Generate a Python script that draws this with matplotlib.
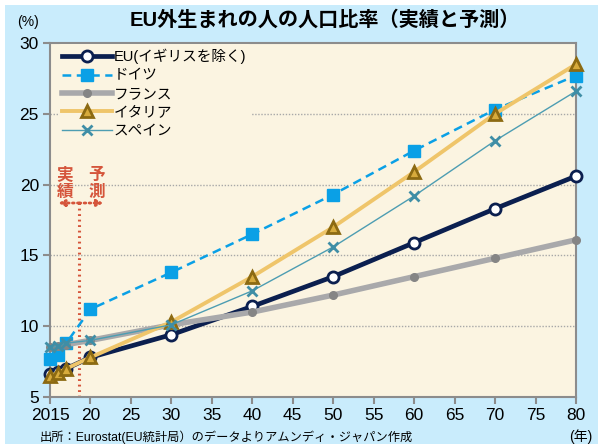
import matplotlib
matplotlib.use("Agg")
import matplotlib.pyplot as plt
from matplotlib.patches import Rectangle

plt.rcParams['font.family'] = ['Liberation Sans', 'Noto Sans CJK JP', 'DejaVu Sans']

years = [2015, 2016, 2017, 2020, 2030, 2040, 2050, 2060, 2070, 2080]
eu = [6.6, 6.8, 7.0, 7.8, 9.4, 11.4, 13.5, 15.9, 18.3, 20.6]
germany = [7.7, 8.0, 8.8, 11.2, 13.8, 16.5, 19.3, 22.4, 25.3, 27.7]
france = [8.5, 8.6, 8.7, 9.0, 10.1, 11.0, 12.2, 13.5, 14.8, 16.1]
italy = [6.5, 6.7, 7.0, 7.8, 10.3, 13.5, 17.0, 20.9, 25.0, 28.5]
spain = [8.5, 8.6, 8.8, 9.0, 10.1, 12.5, 15.6, 19.2, 23.1, 26.6]
labels = ['EU(イギリスを除く)', 'ドイツ', 'フランス', 'イタリア', 'スペイン']
xticks = [2015, 2020, 2025, 2030, 2035, 2040, 2045, 2050, 2055, 2060, 2065, 2070, 2075, 2080]
xticklabels = ['2015', '20', '25', '30', '35', '40', '45', '50', '55', '60', '65', '70', '75', '80']
yticks = [5, 10, 15, 20, 25, 30]
actual_end = 2018.6

fig = plt.figure(figsize=(5.98, 4.44), dpi=100, facecolor='white')
fig.patches.append(Rectangle((5/598, 0), 1, (444-5)/444, transform=fig.transFigure,
                             facecolor='#c9ecfc', edgecolor='none', zorder=-10))
ax = fig.add_axes([50/598, 47/444, 526/598, 354/444])
ax.set_facecolor('#fbf4e1')

ax.plot(years, eu, color='#0b1f4f', lw=3.4, marker='o', ms=8, mfc='white', mec='#0b1f4f',
        mew=2.0, label=labels[0], clip_on=False, zorder=3)
ax.plot(years, germany, color='#0aa0e6', lw=1.8, ls=(0, (3.5, 2.2)), marker='s', ms=8,
        mfc='#0aa0e6', mec='#0aa0e6', label=labels[1], clip_on=False, zorder=4)
ax.plot(years, france, color='#a9a9ab', lw=4, marker='o', ms=5.5, mfc='#858585', mec='#858585',
        label=labels[2], clip_on=False, zorder=5)
ax.plot(years, italy, color='#efc56a', lw=2.8, marker='^', ms=9, mfc='#d7ab3c', mec='#8c6a12',
        mew=2.0, label=labels[3], clip_on=False, zorder=6)
ax.plot(years, spain, color='#4d9db2', lw=1.0, marker='x', ms=6.5, mec='#3f8ea6', mew=2.0,
        label=labels[4], clip_on=False, zorder=7)

ax.set_xlim(2015, 2080)
ax.set_ylim(5, 30)
ax.set_xticks(xticks)
ax.set_xticklabels(xticklabels)
ax.set_yticks(yticks)
for y in [10, 15, 20, 25]:
    ax.axhline(y, color='#a8a8a8', lw=1, ls=(0, (1, 1.2)), zorder=1)
for s in ax.spines.values():
    s.set_color('#8c8c8c')
    s.set_linewidth(1.5)
ax.tick_params(axis='both', colors='#8c8c8c', width=1.5, length=5, labelsize=12.5,
               labelcolor='black')
ax.tick_params(axis='x', pad=3)
ax.tick_params(axis='y', pad=3)

red = '#d5553b'
arrow_y = 18.7
ax.plot([actual_end, actual_end], [5, arrow_y], color=red, lw=2.2, ls=(0, (0.6, 1.2)), zorder=2)
ax.annotate('', xy=(2016.0, arrow_y), xytext=(actual_end, arrow_y),
            arrowprops=dict(arrowstyle='-|>', color=red, lw=2, ls=(0, (0.6, 1.2)),
                            mutation_scale=9, shrinkA=0, shrinkB=0), zorder=2)
ax.annotate('', xy=(2021.6, arrow_y), xytext=(actual_end, arrow_y),
            arrowprops=dict(arrowstyle='-|>', color=red, lw=2, ls=(0, (0.6, 1.2)),
                            mutation_scale=9, shrinkA=0, shrinkB=0), zorder=2)
ax.text(2016.85, 20.1, '実\n績', color=red, fontsize=12, fontweight='bold', ha='center',
        va='center', linespacing=0.95, family=['Noto Sans CJK JP'])
ax.text(2020.8, 20.1, '予\n測', color=red, fontsize=12, fontweight='bold', ha='center',
        va='center', linespacing=0.95, family=['Noto Sans CJK JP'])

leg = ax.legend(loc='upper left', bbox_to_anchor=(0.012, 1.0), frameon=True, facecolor='#fbf4e1',
                edgecolor='none', framealpha=1, fontsize=10.5, handlelength=3.4,
                handletextpad=0.15, labelspacing=0.3, borderpad=0.3, borderaxespad=0.1)
leg.set_zorder(8)
for t in leg.get_texts():
    t.set_family(['Liberation Sans', 'Noto Sans CJK JP'])

fig.text(325/598, 1 - 20/444, 'EU外生まれの人の人口比率（実績と予測）', ha='center', va='center',
         fontsize=14.5, fontweight='bold', family=['Liberation Sans', 'Noto Sans CJK JP'])
fig.text(28/598, 1 - 22/444, '(%)', ha='center', va='center', fontsize=10)
fig.text(40/598, 1 - 437/444, '出所：Eurostat(EU統計局）のデータよりアムンディ・ジャパン作成', ha='left',
         va='center', fontsize=8.8, family=['Liberation Sans', 'Noto Sans CJK JP'])
fig.text(581/598, 1 - 437/444, '(年)', ha='center', va='center', fontsize=10,
         family=['Liberation Sans', 'Noto Sans CJK JP'])

fig.savefig('out.png', dpi=100, facecolor=fig.get_facecolor())
